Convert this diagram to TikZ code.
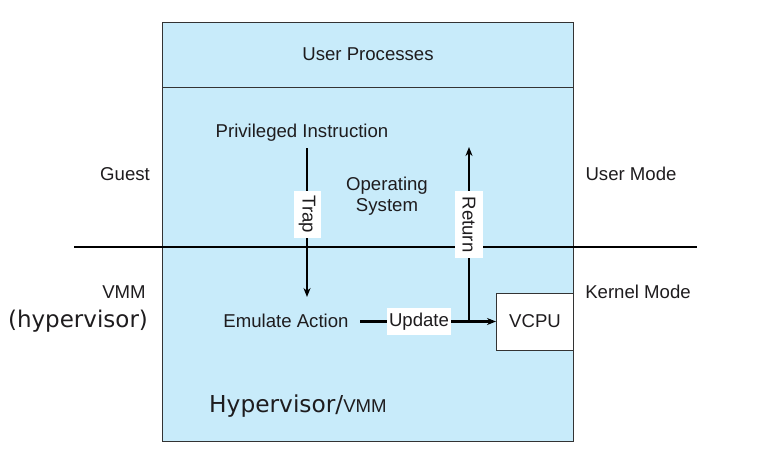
\documentclass[tikz,border=0pt]{standalone}
\usepackage{fontspec}
\setmainfont{Liberation Sans}
\newfontfamily\vfont{DejaVu Sans}
\usetikzlibrary{arrows.meta}
\definecolor{boxblue}{RGB}{200,235,250}
\definecolor{txt}{RGB}{30,28,30}
\begin{document}
\begin{tikzpicture}[x=1pt,y=-1pt,
  lbl/.style={font=\fontsize{18.6}{21}\selectfont, text=txt, inner sep=1pt},
  whitelbl/.style={lbl, fill=white, inner sep=0pt},
  arr/.style={line width=2.1pt, -{Stealth[length=9pt,width=7pt]}},
  ln/.style={line width=2.1pt},
]
\useasboundingbox (0,0) rectangle (760,472);
% outer boxes
\node[draw=black!80, line width=1pt, fill=boxblue, minimum width=411pt, minimum height=419pt, anchor=north west, inner sep=0pt] (vm) at (162,22) {};
\node[draw=black!80, line width=1pt, fill=boxblue, minimum width=411pt, minimum height=65pt, anchor=north west, inner sep=0pt] (up) at (162,22) {};
\node[lbl] (uptxt) at (368,54) {User Processes};
% divider line
\coordinate (dl) at (74,247);
\coordinate (dr) at (697,247);
\draw[ln] (dl) -- (dr);
% labels
\node[lbl] (pi) at (302,133) {Privileged Instruction};
\node[lbl, align=center] (os) at (387,196) {Operating\\System};
\node[lbl] (ea) at (286,321) {Emulate Action};
\node[draw=black!80, line width=1pt, fill=white, minimum width=77pt, minimum height=57pt, inner sep=0pt, lbl] (vcpu) at (535,321.5) {VCPU};
\node[lbl] (guest) at (125,174) {Guest};
\node[lbl] (um) at (631,174) {User Mode};
\node[lbl] (vmm) at (124,292) {VMM};
\node[lbl, font=\vfont\fontsize{23}{25}\selectfont] (hyp) at (78,321) {(hypervisor)};
\node[lbl] (km) at (638,292) {Kernel Mode};
\node[lbl, anchor=base west, inner sep=0pt] (hv) at (209,412) {{\vfont\fontsize{23.3}{25}\selectfont Hypervisor/}VMM};
% trap
\coordinate (t1) at (307,148);
\coordinate (t2) at (307,297);
\draw[arr] (t1) -- (t2);
\node[whitelbl, rotate=-90, minimum width=47pt, minimum height=27pt] (trap) at (307,214.5) {Trap};
% update and return
\node[whitelbl, minimum width=64pt, minimum height=27pt] (upd) at (419,321.5) {Update};
\coordinate (ea1) at (360,321.5);
\draw[ln] (ea1) -- (upd.west);
\draw[arr] (upd.east) -- (vcpu.west);
\coordinate (r0) at (469,321.5);
\coordinate (r1) at (469,147);
\draw[arr] (r0) -- (r1);
\node[whitelbl, rotate=-90, minimum width=67pt, minimum height=28pt] (ret) at (469,224.5) {Return};
\end{tikzpicture}
\end{document}
